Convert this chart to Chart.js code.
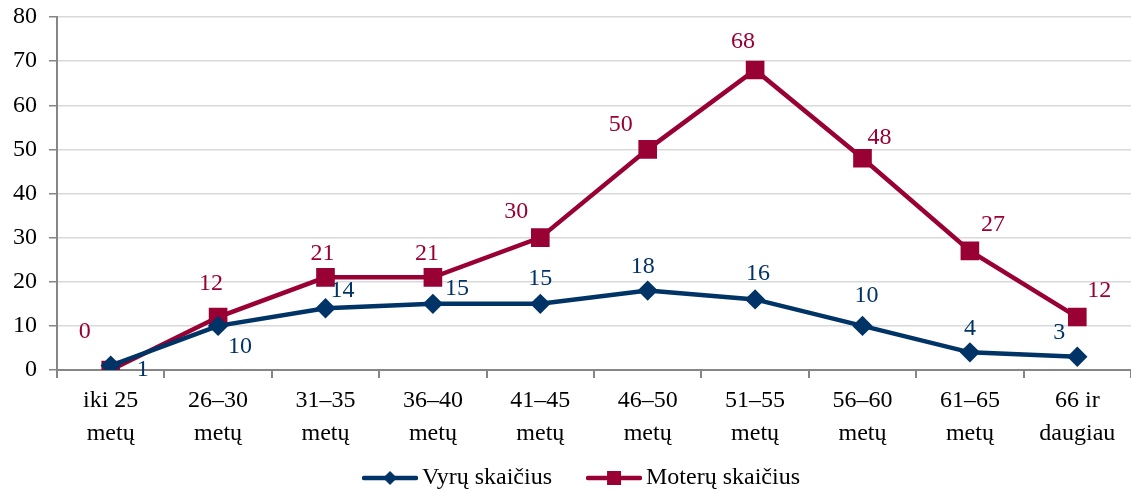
<!DOCTYPE html>
<html>
<head>
<meta charset="utf-8">
<script src="https://cdn.jsdelivr.net/npm/chart.js@4"></script>
<style>
  html, body { margin: 0; padding: 0; background: #fff; overflow: hidden; }
  #wrap { width: 1131px; height: 492px; position: relative; }
</style>
</head>
<body>
<div id="wrap"><canvas id="ageChart"></canvas></div>
<script>
// amžiaus grupės
const categories = [
    ['iki 25', 'metų'], ['26–30', 'metų'], ['31–35', 'metų'], ['36–40', 'metų'], ['41–45', 'metų'],
    ['46–50', 'metų'], ['51–55', 'metų'], ['56–60', 'metų'], ['61–65', 'metų'], ['66 ir', 'daugiau']
];
const maleValues = [1, 10, 14, 15, 15, 18, 16, 10, 4, 3];
const femaleValues = [0, 12, 21, 21, 30, 50, 68, 48, 27, 12];
const yTicks = [0, 10, 20, 30, 40, 50, 60, 70, 80];

const MALE = '#003366';
const FEMALE = '#990033';
const FONT = '"Liberation Serif", "Times New Roman", serif';

// etikečių poslinkiai nuo taško (dx, dy)
const maleLabelShift = [[32, 4], [22, 21], [17, -18], [24, -15], [0, -25], [-5, -24], [3, -26], [4, -30], [0, -24], [-18, -24]];
const femaleLabelShift = [[-26, -38], [-7, -33], [-3, -24], [-6, -24], [-24, -26], [-27, -25], [-12, -28], [17, -20], [23, -26], [22, -26]];

// legendos ženkliukas: linija su žymekliu
function legendIcon(color, style, radius) {
    const c = document.createElement('canvas');
    c.width = 56; c.height = 20;
    const g = c.getContext('2d');
    g.strokeStyle = color; g.lineWidth = 4.5; g.lineCap = 'round';
    g.beginPath(); g.moveTo(2, 10); g.lineTo(54, 10); g.stroke();
    g.fillStyle = color;
    g.beginPath();
    if (style === 'rect') {
        g.rect(28 - radius, 10 - radius, radius * 2, radius * 2);
    } else {
        g.moveTo(28, 10 - radius); g.lineTo(28 + radius, 10); g.lineTo(28, 10 + radius); g.lineTo(28 - radius, 10);
        g.closePath();
    }
    g.fill();
    return c;
}

const valueLabels = {
    id: 'valueLabels',
    afterLayout(chart) {
        // legenda šiek tiek pasislinkusi į dešinę
        chart.legend.left += 39;
    },
    afterDatasetsDraw(chart) {
        const ctx = chart.ctx;
        ctx.save();
        ctx.font = '24px ' + FONT;
        ctx.textAlign = 'center';
        ctx.textBaseline = 'middle';
        chart.data.datasets.forEach((ds, i) => {
            const shifts = i === 0 ? maleLabelShift : femaleLabelShift;
            ctx.fillStyle = ds.borderColor;
            chart.getDatasetMeta(i).data.forEach((pt, j) => {
                ctx.fillText(String(ds.data[j]), pt.x + shifts[j][0], pt.y + shifts[j][1]);
            });
        });
        ctx.restore();
    }
};

const ageChart = new Chart(document.getElementById('ageChart'), {
    type: 'line',
    data: {
        labels: categories,
        datasets: [
            {
                label: 'Vyrų skaičius',
                data: maleValues,
                borderColor: MALE,
                backgroundColor: MALE,
                borderWidth: 4.5,
                pointStyle: 'rectRot',
                pointRadius: 7,
                pointHoverRadius: 7,
                tension: 0
            },
            {
                label: 'Moterų skaičius',
                data: femaleValues,
                borderColor: FEMALE,
                backgroundColor: FEMALE,
                borderWidth: 4.5,
                pointStyle: 'rect',
                pointRadius: 10,
                pointHoverRadius: 10,
                tension: 0
            }
        ]
    },
    options: {
        responsive: true,
        maintainAspectRatio: false,
        animation: false,
        layout: { autoPadding: false, padding: { top: 17, right: 0, left: 0, bottom: -8 } },
        plugins: {
            tooltip: { enabled: false },
            legend: {
                position: 'bottom',
                labels: {
                    usePointStyle: true,
                    pointStyleWidth: 40,
                    padding: 0,
                    color: '#000',
                    font: { family: FONT, size: 24 },
                    generateLabels(chart) {
                        return chart.data.datasets.map((ds, i) => ({
                            text: i === 0 ? ds.label + '\u2003\u2002\u2005' : ds.label,
                            fillStyle: ds.borderColor,
                            strokeStyle: ds.borderColor,
                            fontColor: '#000',
                            pointStyle: i === 0 ? legendIcon(MALE, 'rot', 7) : legendIcon(FEMALE, 'rect', 7),
                            datasetIndex: i,
                            hidden: false
                        }));
                    }
                }
            }
        },
        scales: {
            x: {
                offset: true,
                grid: { display: true, drawOnChartArea: false, offset: true, color: '#868686', lineWidth: 2, tickLength: 8 },
                border: { color: '#868686', width: 2 },
                ticks: { color: '#000', font: { family: FONT, size: 24, lineHeight: 1.38 }, maxRotation: 0, autoSkip: false, padding: 6 },
                afterFit(scale) {
                    scale.height = 96;
                    scale.paddingLeft = 0;
                    scale.paddingRight = 0;
                }
            },
            y: {
                min: 0,
                max: 80,
                afterBuildTicks(scale) { scale.ticks = yTicks.map(v => ({ value: v })); },
                grid: { color: '#d9d9d9', lineWidth: 1.5, tickLength: 8, tickColor: '#868686' },
                border: { color: '#868686', width: 2 },
                ticks: { color: '#000', font: { family: FONT, size: 24 }, padding: 12 },
                afterFit(scale) {
                    scale.width = 57;
                    scale.paddingTop = 0;
                    scale.paddingBottom = 0;
                }
            }
        }
    },
    plugins: [valueLabels]
});
</script>
</body>
</html>
